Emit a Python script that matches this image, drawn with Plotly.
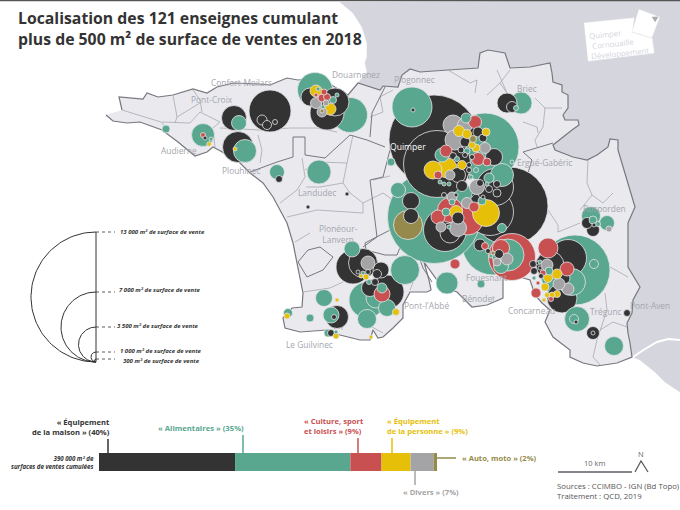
import numpy as np
import plotly.graph_objects as go

# coordinates of the map are in picture pixels, surfaces in m2 (diameter = surface / 100)
land_x = [106,113,127,140,162,178,195,207,213,222,237,250,263,273,287,293,298,303,302,292,283,285,300,327,340,360,370,373,378,383,393,403,403,410,427,431,429,424,437,445,457,472,487,503,503,520,530,535,542,550,545,553,570,570,583,597,617,632,630,628,627,632,633,640,628,628,635,632,618,618,610,608,597,587,573,555,553,572,579,578,565,563,568,568,562,562,553,552,550,530,510,505,488,480,478,448,420,410,402,398,383,380,358,348,320,298,287,270,260,233,217,207,193,173,158,147,143,119,122]
land_y = [115,121,123,122,130,142,156,152,147,152,160,173,183,197,223,243,270,293,307,308,318,328,332,330,335,340,340,330,338,337,328,318,305,292,292,290,280,262,280,288,292,307,305,298,277,277,280,295,303,310,322,337,350,357,363,366,363,357,343,333,323,313,300,287,267,223,207,197,150,140,139,147,155,160,157,150,145,130,125,120,120,115,108,95,92,85,82,73,63,67,68,53,50,53,68,70,72,69,75,87,86,90,83,95,78,80,78,85,84,83,87,93,89,95,97,93,99,97,110]
outside_x = [340,353,362,367,367,365,367,358,348,400,520,600,620,633,640,655,665,680,680]
outside_y = [2,13,27,43,57,63,72,83,95,150,150,250,340,357,360,372,382,392,0]
river_x = [633,645,657,668,680]
river_y = [357,349,342,339,340]

commune_lines = [
    [(122,110),(161,122),(168,130)],
    [(162,122),(190,123),(200,112),(220,122),(213,128)],
    [(173,95),(177,117),(175,123)],
    [(193,90),(200,100),(202,112)],
    [(177,117),(200,103)],
    [(213,130),(215,147)],
    [(220,128),(260,130),(290,128),(317,128),(337,132)],
    [(258,135),(262,150),(260,163)],
    [(302,158),(305,177),(297,190),(280,203)],
    [(305,170),(320,162),(347,163),(343,183),(350,193),(363,203),(363,213),(317,210),(287,217)],
    [(343,183),(320,187),(306,187)],
    [(363,203),(383,193),(393,200)],
    [(347,163),(353,135)],
    [(295,242),(310,233)],
    [(303,292),(330,288),(343,282)],
    [(342,313),(342,330)],
    [(372,327),(383,333)],
    [(370,117),(383,112),(380,97),(393,90)],
    [(448,70),(470,83),(477,80),(475,93)],
    [(497,70),(507,93),(500,83)],
    [(510,70),(500,83),(487,95)],
    [(535,98),(545,108),(562,108)],
    [(545,108),(543,127),(535,140),(537,147)],
    [(523,122),(537,127),(538,133)],
    [(588,160),(587,183),(592,195),(580,210)],
    [(592,195),(603,203),(613,193)],
    [(548,210),(558,225),(558,232),(580,223)],
    [(610,267),(628,277)],
    [(605,293),(607,310),(597,340),(593,357),(600,365)],
    [(600,330),(613,322),(627,327)],
    [(373,180),(390,176)],
    [(410,290),(418,270),(412,255)],
]
border_lines = [
    [(250,172),(277,162),(293,157),(293,137),(305,137),(305,155),(325,158),(350,135),(367,140),(385,147)],
    [(370,137),(372,113),(385,87)],
    [(363,247),(377,237),(370,180),(383,177),(390,150)],
    [(523,152),(532,160),(528,173)],
    [(523,152),(553,143)],
    [(403,240),(397,255),(385,255),(366,250),(365,243),(375,238),(390,230)],
    [(298,262),(308,250),(320,247),(333,257),(323,270),(307,277),(298,262)],
    [(417,252),(423,268),(432,282)],
]

# (x, y, surface m2)
noir = [(234,118,2500),(238,147,3100),(205,138,300),(270,111,4200),(262,120,1000),(267,125,900),(275,122,500),
        (327,113,3400),(310,97,1800),(335,102,2800),(279,179,700),(347,194,300),(308,207,300),
        (413,110,300),(434,140,9000),(437,164,6700),(509,206,7800),(445,230,4300),(490,212,4700),(450,233,2000),
        (473,130,1500),(478,132,1000),(483,138,800),(465,142,1000),(453,156,700),(461,150,600),(465,155,500),(472,157,500),
        (494,157,1700),(462,186,1100),(458,175,1500),(469,165,500),(469,170,500),(470,177,500),
        (495,187,3700),(497,184,700),(489,189,700),(497,193,800),(483,197,400),(480,183,700),
        (411,201,1700),(411,216,1500),(444,195,500),(456,195,400),(458,218,1200),(480,245,1200),(488,251,500),(499,254,900),
        (568,258,3700),(550,265,2800),(563,278,1400),(562,298,3000),(541,276,500),(534,271,700),(533,264,700),(540,268,400),(538,263,400),
        (576,322,400),(593,333,1300),(593,333,400),(627,313,700),(587,223,1100),(593,230,1300),(594,225,300),
        (507,103,2000),(512,107,1100),
        (353,267,3400),(363,263,2900),(381,270,1600),(377,274,900),(375,282,700),(368,272,500),(358,272,400),(370,288,1700),(387,292,3400),
        (337,317,2300),(334,317,500),(331,333,700)]
vert = [(166,129,800),(203,135,2300),(211,139,300),(239,123,1500),(245,151,2300),(315,90,3500),(350,115,3500),(318,89,300),
        (333,100,700),(337,95,400),(323,107,400),(277,172,1500),(319,172,2400),
        (412,107,4000),(485,147,6800),(434,217,9300),(466,118,1000),(442,155,1400),(467,151,600),(457,159,500),
        (444,184,400),(449,184,400),(440,182,300),(476,170,500),(471,177,400),(398,190,1500),(391,162,800),
        (502,175,2300),(489,178,1000),(487,184,400),(482,201,800),(452,202,600),(446,212,800),(502,228,900),(449,227,400),
        (493,244,6200),(508,255,3200),(501,266,1500),(491,256,400),(405,270,2900),(447,283,2200),(481,284,800),
        (575,270,7000),(594,264,900),(572,282,2700),(549,271,800),(534,278,300),(540,262,400),
        (577,319,2500),(574,319,900),(614,346,1900),(591,216,1900),(607,223,1500),(593,220,800),(598,224,500),
        (521,103,2200),(516,108,500),(512,162,300),
        (352,249,1600),(363,273,300),(369,282,500),(382,288,1000),(376,298,2000),(367,300,3600),(387,308,1700),(367,319,1900),
        (324,298,1700),(310,318,800),(331,315,1600),(288,313,900),(328,333,800),(336,332,300)]
rouge = [(203,135,500),(324,92,600),(322,98,800),(327,97,700),(316,95,300),(475,122,1300),(446,151,1200),(478,159,1300),(487,162,800),
         (438,175,800),(450,210,2500),(438,217,1400),(474,207,1000),(468,220,3000),(455,264,1000),
         (512,257,4700),(501,248,1700),(485,246,700),(548,248,2000),(567,269,1400),(536,293,1000),(551,299,500),(538,283,400),(543,273,600),
         (382,294,1600)]
jaune = [(209,144,450),(235,149,400),(316,91,1200),(330,109,1200),(459,131,1100),(467,134,900),(486,132,800),(476,148,800),(472,145,700),
         (433,170,1800),(447,168,2000),(462,165,900),(456,212,1300),(486,213,2700),
         (557,274,1000),(548,278,900),(545,287,800),(557,294,700),(552,295,600),(547,295,500),(544,300,400),
         (366,277,600),(361,276,300),(396,312,700),(337,300,400),(287,316,600),(336,336,600),(371,337,400)]
gris = [(316,103,1100),(326,103,600),(322,112,1000),(453,125,2000),(465,125,1500),(455,140,2000),(485,148,1100),(450,175,1000),
        (477,187,1500),(452,197,1000),(467,203,1100),(458,228,1700),(441,227,1000),(497,262,800),(507,259,1200),
        (547,265,1200),(568,289,1200),(559,284,1200),(609,229,600),(368,263,1400)]
olive = [(322,111,400),(473,139,700),(408,225,2900),(493,253,300)]

# this one sits under the bigger black circle in the original, not on top of it
drawn_first = [(493,244)]

colors = {"noir": "#333333", "vert": "#59a78f", "rouge": "#c95050", "jaune": "#e6bf08", "gris": "#a4a4a6", "olive": "#958a4b"}

legend_surfaces = [13000, 7000, 3500, 1000, 300]
legend_labels = ["13 000 m² de surface de vente", "7 000 m² de surface de vente", "3 500 m² de surface de vente",
                 "1 000 m² de surface de vente", "300 m² de surface de vente"]
legend_label_x = [120, 119, 117, 120, 123]
legend_label_y = [232, 290, 326, 351, 361]

bar_names = ["noir", "vert", "rouge", "jaune", "gris", "olive"]
bar_surface = [157000, 133000, 36000, 33500, 26500, 4000]
bar_total = 390000

place_names = [("Confort-Meilars",241,82),("Pont-Croix",212,99),("Douarnenez",356,74),("Plogonnec",414,79),("Briec",527,88),
               ("Ergué-Gabéric",544,162),("Audierne",179,150),("Plouhinec",241,170),("Landudec",317,192),("Plonéour-<br>Lanvern",338,234),
               ("Fouesnant",486,277),("Pont-l'Abbé",426,305),("Bénodet",478,298),("Concarneau",531,310),
               ("Rosporden",604,208),("Trégunc",606,311),("Pont-Aven",650,305),("Le Guilvinec",309,344)]

fig = go.Figure()

def poly(xs, ys, fill, line, width):
    fig.add_trace(go.Scatter(x=xs, y=ys, mode="lines", fill="toself", fillcolor=fill,
                             line=dict(color=line, width=width), hoverinfo="skip"))

def polyline(pts, color, width, dash="solid"):
    fig.add_trace(go.Scatter(x=[p[0] for p in pts], y=[p[1] for p in pts], mode="lines",
                             line=dict(color=color, width=width, dash=dash), hoverinfo="skip"))

def label(text, x, y, size=8, color="#333333", anchor="left", angle=0, font="Open Sans"):
    fig.add_annotation(x=x, y=y, text=text, showarrow=False, xanchor=anchor, yanchor="middle", textangle=angle,
                       align=anchor, font=dict(family=font, size=size, color=color), xref="x", yref="y",
                       borderpad=0, borderwidth=0)

poly(outside_x, outside_y, "#d5d5dd", "#d5d5dd", 0.5)
polyline(list(zip(river_x, river_y)), "white", 2)
polyline([(0,0.5),(680,0.5)], "#555555", 1.5)
poly(land_x, land_y, "#e9e9ee", "#77777f", 1.2)
for pts in commune_lines:
    polyline(pts, "#a8a8b0", 0.8)
for pts in border_lines:
    polyline(pts, "#77777f", 1)

# all shops together, biggest first so the small ones stay on top
shops = []
for name, rows in [("noir", noir), ("vert", vert), ("rouge", rouge), ("jaune", jaune), ("gris", gris), ("olive", olive)]:
    shops += [(x, y, s, colors[name]) for x, y, s in rows]
shops.sort(key=lambda r: (0 if (r[0], r[1]) in drawn_first else 1, -r[2]))
fig.add_trace(go.Scatter(
    x=[r[0] for r in shops], y=[r[1] for r in shops], mode="markers",
    marker=dict(size=[r[2] for r in shops], sizemode="diameter", sizeref=100, sizemin=2,
                color=[r[3] for r in shops], opacity=1, line=dict(color="#e4e4e8", width=0.8)),
    hoverinfo="skip"))

for name, x, y in place_names:
    label(name, x, y, size=8.4, color="#a6a6ae", anchor="center")
label("Quimper", 408, 147, size=8.6, color="white", anchor="center")

# title
label("<b>Localisation des 121 enseignes cumulant<br>plus de 500 m² de surface de ventes en 2018</b>", 18, 28, size=15.8)

# logo
poly([584,634,632,652,654,588], [23,18,32,38,53,61], "white", "white", 0.5)
poly([639,660,652,632], [9,17,38,32], "white", "#d5d5dd", 0.5)
poly([652,658,655], [17,17,22], "#a9a9b0", "#a9a9b0", 0.5)
label("Quimper<br> Cornouaille<br>Développement", 589, 43, size=7.8, color="#d5d5dd", angle=-6)

# proportional circles legend
legend_cx = 96
legend_base = 362
theta = np.linspace(np.pi / 2, 3 * np.pi / 2, 80)
for surface, text, lx, ly in zip(legend_surfaces, legend_labels, legend_label_x, legend_label_y):
    r = surface / 200
    fig.add_trace(go.Scatter(x=legend_cx + r * np.cos(theta), y=legend_base - r + r * np.sin(theta) * -1,
                             mode="lines", line=dict(color="#333333", width=1), hoverinfo="skip"))
    polyline([(legend_cx, legend_base - 2 * r), (115, legend_base - 2 * r)], "#333333", 0.8, "dot")
    label("<b><i>" + text + "</i></b>", lx, ly, size=6)
polyline([(legend_cx, legend_base - legend_surfaces[0] / 100), (legend_cx, legend_base)], "#333333", 1)

# stacked bar
bar_left = 99
bar_px = 338 / bar_total
start = bar_left
for name, surface in zip(bar_names, bar_surface):
    fig.add_trace(go.Bar(x=[surface * bar_px], y=[462], base=[start], width=[18], orientation="h",
                         marker=dict(color=colors[name], line=dict(width=0)), hoverinfo="skip"))
    start += surface * bar_px

polyline([(108,439),(108,453)], colors["noir"], 1.5)
polyline([(243,435),(243,453)], colors["vert"], 1.5)
polyline([(358,438),(358,453)], colors["rouge"], 1.5)
polyline([(392,438),(392,453)], colors["jaune"], 1.5)
polyline([(415,471),(415,485)], colors["gris"], 1.5)
polyline([(437,458),(456,458)], colors["olive"], 1.5)

label("<b>« Équipement<br>de la maison » (40%)</b>", 110, 427, size=7.6, anchor="right")
label("<b>« Alimentaires » (35%)</b>", 158, 428, size=7.7, color=colors["vert"])
label("<b>« Culture, sport<br>et loisirs » (9%)</b>", 304, 426, size=7.6, color=colors["rouge"])
label("<b>« Équipement<br>de la personne » (9%)</b>", 387, 426, size=7.6, color=colors["jaune"])
label("<b>« Auto, moto » (2%)</b>", 462, 458, size=7.6, color=colors["olive"])
label("<b>« Divers » (7%)</b>", 403, 492, size=7.6, color=colors["gris"])
label("<b><i>390 000 m² de<br>surfaces de ventes cumulées</i></b>", 94, 462.5, size=6.1, anchor="right")

# scale, north, sources
polyline([(558,472),(632,472)], "#85858d", 2)
label("10 km", 594, 463, size=7.5, color="#666666", anchor="center")
polyline([(635,472),(641,461),(648,472)], "#555555", 1.2)
label("N", 641, 454, size=7.5, color="#666666", anchor="center")
label("Sources : CCIMBO - IGN (Bd Topo)<br>Traitement : QCD, 2019", 557, 491, size=7.8, color="#555555")

fig.update_layout(
    width=680, height=510,
    margin=dict(l=0, r=0, t=0, b=0),
    paper_bgcolor="white", plot_bgcolor="white",
    showlegend=False, barmode="overlay",
    xaxis=dict(range=[0, 680], visible=False, fixedrange=True),
    yaxis=dict(range=[510, 0], visible=False, fixedrange=True),
)

fig.write_html("out.html", config=dict(displayModeBar=False), post_script="document.body.style.margin='0';")
